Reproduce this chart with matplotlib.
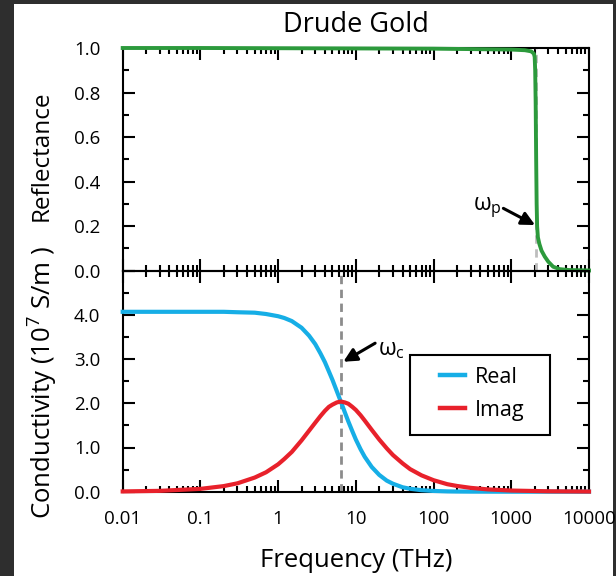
import matplotlib
matplotlib.use("Agg")
import matplotlib.pyplot as plt
from matplotlib.patches import Rectangle
from matplotlib.ticker import FixedLocator, NullFormatter, LogLocator

plt.rcParams['font.family'] = ['Open Sans', 'DejaVu Sans']

# ---- data ----
title = "Drude Gold"
freq_R = [0.01, 0.1, 1, 10, 100, 1000, 1500, 1800, 1950, 2000, 2030, 2060, 2090,
          2120, 2150, 2200, 2300, 2450, 2700, 3000, 3450, 4200, 5500, 10000]
reflectance = [1.0, 1.0, 0.999, 0.998, 0.997, 0.993, 0.99, 0.985, 0.975, 0.96, 0.9,
               0.75, 0.5, 0.3, 0.2, 0.15, 0.12, 0.09, 0.063, 0.04, 0.018, 0.007,
               0.003, 0.001]
freq_s = [0.01, 0.03, 0.1, 0.2, 0.3, 0.5, 0.7, 1, 1.2, 1.5, 2, 2.5, 3, 3.5, 4, 4.5,
          5, 5.7, 6.4, 7.2, 8, 9, 10, 11.5, 13, 16, 20, 25, 30, 40, 50, 70, 100,
          150, 200, 300, 500, 1000, 3000, 10000]
sigma_real = [4.07, 4.07, 4.07, 4.07, 4.06, 4.05, 4.02, 3.97, 3.93, 3.86, 3.71, 3.53,
              3.34, 3.13, 2.93, 2.72, 2.53, 2.27, 2.04, 1.80, 1.59, 1.37, 1.18, 0.96,
              0.79, 0.56, 0.38, 0.25, 0.18, 0.10, 0.066, 0.034, 0.017, 0.007, 0.004,
              0.002, 0.001, 0, 0, 0]
sigma_imag = [0.006, 0.019, 0.064, 0.127, 0.19, 0.32, 0.44, 0.62, 0.74, 0.90, 1.16,
              1.38, 1.56, 1.71, 1.83, 1.92, 1.97, 2.02, 2.04, 2.02, 1.99, 1.92, 1.85,
              1.73, 1.61, 1.40, 1.18, 0.98, 0.83, 0.64, 0.51, 0.37, 0.26, 0.17, 0.13,
              0.087, 0.052, 0.026, 0.009, 0.003]
omega_p = 2050
omega_c = 6.4
x_ticks = [0.01, 0.1, 1, 10, 100, 1000, 10000]
x_ticklabels = ["0.01", "0.1", "1", "10", "100", "1000", "10000"]
r_ticks = [0.0, 0.2, 0.4, 0.6, 0.8, 1.0]
r_ticklabels = ["0.0", "0.2", "0.4", "0.6", "0.8", "1.0"]
s_ticks = [0.0, 1.0, 2.0, 3.0, 4.0, 5.0]
s_ticklabels = ["0.0", "1.0", "2.0", "3.0", "4.0", ""]
legend_labels = ["Real", "Imag"]

GREEN = "#2c9a3c"
BLUE = "#16aee6"
RED = "#e8212b"

W, H = 616, 576
fig = plt.figure(figsize=(W / 100, H / 100), dpi=100, facecolor="#2e2e2e")
fig.patches.append(Rectangle((14 / W, 0), (613 - 14) / W, 1 - 4 / H,
                             transform=fig.transFigure, facecolor="white",
                             edgecolor="none", zorder=-10))

left, right = 122.7 / W, 589 / W
top_y, mid_y, bot_y = 1 - 48 / H, 1 - 270.7 / H, 1 - 491.7 / H
ax1 = fig.add_axes([left, mid_y, right - left, top_y - mid_y])
ax2 = fig.add_axes([left, bot_y, right - left, mid_y - bot_y])

for ax in (ax1, ax2):
    ax.set_facecolor("none")
    ax.set_xscale("log")
    ax.set_xlim(0.01, 10000)
    for sp in ax.spines.values():
        sp.set_linewidth(1.5)
    ax.xaxis.set_major_locator(FixedLocator(x_ticks))
    ax.xaxis.set_minor_locator(LogLocator(base=10, subs=range(2, 10), numticks=20))
    ax.xaxis.set_minor_formatter(NullFormatter())
    ax.tick_params(which="both", direction="in", top=True, right=True, width=1.5,
                   labelsize=13.5)
    ax.tick_params(which="major", length=8.5)
    ax.tick_params(which="minor", length=4.5)
    ax.tick_params(axis="y", pad=16)
    ax.tick_params(axis="x", pad=13)

# upper: reflectance
ax1.set_ylim(0, 1.0)
ax1.set_yticks(r_ticks)
ax1.set_yticklabels(r_ticklabels)
ax1.set_yticks([0.1, 0.3, 0.5, 0.7, 0.9], minor=True)
ax1.set_xticklabels([])
ax1.axvline(omega_p, color="#bdbdbd", lw=2, dashes=(3, 2), zorder=2)
ax1.plot(freq_R, reflectance, color=GREEN, lw=2.8, clip_on=False, zorder=3)
ax1.annotate("", xy=(2023, 0.205), xytext=(791, 0.28),
             arrowprops=dict(arrowstyle="-|>", color="k", lw=2.2, mutation_scale=20,
                             shrinkA=0, shrinkB=0))
ax1.text(489, 0.283, r"$\mathregular{\omega_p}$", fontsize=16.5, ha="center",
         va="center")

# lower: conductivity
ax2.set_ylim(0, 5.0)
ax2.set_yticks(s_ticks)
ax2.set_yticklabels(s_ticklabels)
ax2.set_yticks([0.5, 1.5, 2.5, 3.5, 4.5], minor=True)
ax2.set_xticklabels(x_ticklabels)
ax2.axvline(omega_c, color="#8c8c8c", lw=2, dashes=(3, 2), zorder=2)
l1, = ax2.plot(freq_s, sigma_real, color=BLUE, lw=3, clip_on=False, zorder=3)
l2, = ax2.plot(freq_s, sigma_imag, color=RED, lw=3, clip_on=False, zorder=3)
ax2.annotate("", xy=(6.9, 2.94), xytext=(17.7, 3.36),
             arrowprops=dict(arrowstyle="-|>", color="k", lw=2.2, mutation_scale=20,
                             shrinkA=0, shrinkB=0))
ax2.text(28.4, 3.23, r"$\mathregular{\omega_c}$", fontsize=16.5, ha="center",
         va="center")

ax2.add_patch(Rectangle((0.616, 0.2566), 0.300, 0.362, transform=ax2.transAxes,
                        facecolor="white", edgecolor="black", lw=1.5, zorder=4))
leg = ax2.legend([l1, l2], legend_labels, loc="upper left",
                 bbox_to_anchor=(0.6625, 0.605), borderaxespad=0, frameon=False,
                 fontsize=15.5, handlelength=1.15, handletextpad=0.45, borderpad=0.4,
                 labelspacing=0.56)
for ln in leg.get_lines():
    ln.set_linewidth(3.2)
leg.set_zorder(5)

fig.text((left + right) / 2, 1 - 32 / H, title, fontsize=19.5, ha="center",
         va="baseline")
fig.text((left + right) / 2, 1 - 566.7 / H, "Frequency (THz)", fontsize=18.5,
         ha="center", va="baseline")
fig.text(42 / W, 1 - 156 / H, "Reflectance", fontsize=17.5, rotation=90,
         ha="center", va="center")
fig.text(42 / W, 1 - 383 / H, r"Conductivity (10$^{\mathregular{7}}$ S/m )",
         fontsize=18.5, rotation=90, ha="center", va="center")

fig.savefig("out.png", dpi=100, facecolor=fig.get_facecolor())
